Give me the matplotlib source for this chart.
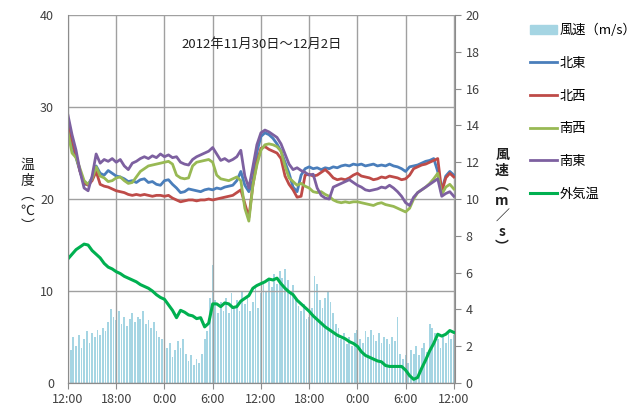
import numpy as np
import matplotlib
matplotlib.use("Agg")
import matplotlib.pyplot as plt
from matplotlib.patches import Patch

plt.rcParams['font.family'] = ['Noto Sans CJK JP', 'DejaVu Sans']

# hours after 2012-11-30 12:00, half-hourly for the temperatures
hours = np.arange(0, 48.01, 0.5)

ne = [27.6, 26.0, 24.5, 23.0, 21.6, 21.6, 22.3, 23.6, 22.8, 22.6, 23.1, 22.8, 22.5, 22.4, 22.2, 21.9,
      22.0, 21.8, 22.1, 22.2, 21.8, 21.9, 21.6, 21.5, 22.0, 22.1, 21.6, 21.2, 20.7, 20.8, 21.1, 21.0,
      20.9, 20.8, 21.0, 21.1, 21.0, 21.2, 21.1, 21.3, 21.4, 21.5, 22.0, 23.0, 21.5, 20.8, 22.0, 25.1,
      26.8, 27.2, 27.0, 26.6, 26.0, 25.2, 24.0, 22.8, 21.3, 20.8, 22.6, 23.3, 23.5, 23.3, 23.4, 23.2,
      23.4, 23.3, 23.5, 23.4, 23.6, 23.7, 23.6, 23.8, 23.7, 23.8, 23.6, 23.7, 23.8, 23.6, 23.7, 23.6,
      23.8, 23.6, 23.5, 23.3, 23.0, 23.5, 23.6, 23.7, 23.9, 24.1, 24.2, 24.4, 23.0, 21.0, 22.5, 23.0, 22.6]

nw = [28.5, 26.5, 24.8, 23.0, 21.8, 21.5, 22.0, 23.0, 21.6, 21.4, 21.3, 21.1, 20.9, 20.8, 20.7, 20.5,
      20.4, 20.5, 20.4, 20.5, 20.4, 20.3, 20.4, 20.4, 20.3, 20.4, 20.1, 19.9, 19.7, 19.8, 19.9, 19.9,
      19.8, 19.9, 19.9, 20.0, 19.9, 20.0, 20.1, 20.2, 20.3, 20.4, 20.7, 21.0, 19.5, 18.0, 21.5, 24.0,
      25.5, 25.7, 25.4, 25.2, 25.0, 24.4, 22.5, 21.6, 21.0, 20.2, 20.3, 22.6, 22.7, 22.5, 22.6, 22.9,
      23.2, 22.8, 22.3, 22.1, 22.2, 22.1, 22.3, 22.6, 22.8, 22.5, 22.4, 22.3, 22.1, 22.2, 22.4, 22.3,
      22.5, 22.4, 22.3, 22.1, 22.2, 22.6, 23.3, 23.5, 23.7, 23.8, 24.0, 24.2, 24.4, 20.8, 22.3, 22.8, 22.4]

sw = [27.2, 25.0, 24.5, 23.3, 22.0, 21.6, 22.2, 23.5, 22.5, 22.3, 21.9, 22.0, 22.3, 22.4, 22.0, 21.7,
      21.8, 22.4, 23.0, 23.3, 23.6, 23.7, 23.8, 23.9, 24.0, 24.1, 23.8, 22.6, 22.3, 22.2, 22.3, 23.6,
      24.0, 24.1, 24.2, 24.3, 24.0, 22.6, 22.2, 22.1, 22.0, 22.2, 22.4, 22.0, 19.0, 17.6, 21.5, 23.7,
      25.3, 25.9, 26.0, 25.9, 25.7, 25.2, 23.6, 22.3, 21.9, 21.5, 21.7, 21.4, 21.2, 20.8, 20.7, 20.8,
      20.5, 20.3, 19.9, 19.7, 19.6, 19.7, 19.6, 19.7, 19.7, 19.6, 19.5, 19.4, 19.3, 19.5, 19.6, 19.4,
      19.3, 19.2, 19.0, 18.8, 18.6, 19.0, 20.0, 20.7, 21.0, 21.3, 21.7, 22.2, 22.8, 20.5, 21.3, 21.6, 21.1]

se = [29.1, 27.0, 25.3, 23.0, 21.2, 20.9, 22.5, 24.9, 23.9, 24.3, 24.1, 24.4, 24.0, 24.3, 23.6, 23.2,
      23.9, 24.1, 24.4, 24.6, 24.4, 24.7, 24.5, 24.9, 24.6, 24.8, 24.5, 24.6, 24.0, 23.8, 23.7, 24.3,
      24.6, 24.8, 25.0, 25.2, 25.6, 24.9, 24.2, 24.4, 24.1, 24.3, 24.6, 25.3, 22.5, 21.2, 23.5, 25.9,
      27.2, 27.5, 27.3, 27.0, 26.7, 26.0, 24.9, 23.8, 23.2, 23.4, 23.1, 22.9, 22.6, 22.7, 21.2, 20.4,
      20.1, 20.0, 21.3, 21.5, 21.7, 21.9, 22.1, 21.8, 21.5, 21.3, 21.0, 20.9, 21.0, 21.1, 21.3, 21.2,
      21.5, 21.2, 20.8, 20.3, 19.6, 19.3, 20.2, 20.7, 21.0, 21.3, 21.6, 21.9, 22.2, 20.3, 20.6, 20.8, 20.3]

outside = [13.5, 14.0, 14.5, 14.8, 15.1, 15.0, 14.4, 14.0, 13.6, 13.0, 12.6, 12.4, 12.1, 11.9, 11.6, 11.4,
           11.2, 11.0, 10.7, 10.5, 10.3, 10.0, 9.6, 9.3, 9.1, 8.5, 7.9, 7.1, 7.9, 7.7, 7.4, 7.3,
           7.0, 7.1, 6.1, 6.5, 8.6, 8.6, 8.3, 8.7, 8.6, 8.2, 8.3, 8.9, 9.2, 9.5, 10.3, 10.6,
           10.8, 11.0, 11.3, 11.2, 11.4, 10.8, 10.3, 9.9, 9.6, 9.0, 8.6, 8.2, 7.8, 7.3, 6.9, 6.5,
           6.1, 5.8, 5.5, 5.2, 5.0, 4.8, 4.5, 4.3, 4.0, 3.4, 3.0, 2.8, 2.6, 2.4, 2.3, 1.9,
           1.8, 1.8, 1.8, 1.8, 1.4, 0.8, 0.4, 0.6, 1.6, 2.5, 3.5, 4.3, 5.3, 5.1, 5.3, 5.7, 5.5]

# wind speed every 20 minutes
wind_hours = np.arange(0, 48.01, 1 / 3)
wind = [2.3, 1.8, 2.5, 2.0, 2.6, 1.9, 2.4, 2.8, 2.2, 2.7, 2.5, 2.9, 2.6, 3.0, 2.8, 3.3, 4.0, 3.6,
        3.4, 3.9, 3.2, 3.6, 3.1, 3.5, 3.8, 3.3, 3.6, 3.5, 3.9, 3.2, 3.4, 3.0, 3.3, 2.8, 2.5, 2.4,
        2.3, 1.9, 2.2, 1.4, 1.8, 2.3, 1.9, 2.4, 1.6, 1.2, 1.5, 1.0, 1.3, 1.1, 1.6, 2.4, 2.8, 4.6,
        6.4, 4.5, 3.8, 4.4, 3.9, 4.6, 3.8, 4.9, 4.2, 4.5, 3.9, 5.0, 4.3, 4.8, 3.9, 4.4, 5.2, 4.1,
        4.9, 5.5, 5.0, 5.6, 5.2, 5.9, 5.4, 6.1, 5.7, 6.2, 5.6, 5.0, 5.3, 4.6, 4.2, 3.9, 4.3, 3.5,
        3.6, 4.1, 5.8, 5.4, 4.5, 4.1, 4.6, 5.0, 4.4, 3.8, 3.2, 3.0, 2.4, 2.7, 2.1, 2.5, 2.0, 2.7,
        2.9, 2.4, 2.2, 2.8, 2.5, 2.9, 2.6, 2.3, 2.7, 2.2, 2.5, 2.4, 2.1, 2.5, 2.3, 3.6, 1.6, 1.3,
        1.5, 1.1, 1.8, 1.6, 2.0, 1.5, 1.9, 2.2, 1.7, 3.2, 3.0, 2.7, 2.4, 1.9, 2.5, 2.2, 2.8, 2.4,
        2.6]

tick_labels = ['12:00', '18:00', '0:00', '6:00', '12:00', '18:00', '0:00', '6:00', '12:00']

fig = plt.figure(figsize=(6.38, 4.08), dpi=100)
ax = fig.add_axes([0.1066, 0.0613, 0.6066, 0.9017])
ax2 = ax.twinx()

# wind bars on the right axis, behind the temperature lines
ax2.bar(wind_hours, wind, width=0.22, color='#a5d5e3', align='center')
ax2.set_ylim(0, 20)
ax2.set_yticks(range(0, 21, 2))

ax.set_zorder(ax2.get_zorder() + 1)
ax.patch.set_visible(False)

ax.plot(hours, ne, color='#4a7ebb', lw=2.0, label='北東')
ax.plot(hours, nw, color='#be4b48', lw=2.0, label='北西')
ax.plot(hours, sw, color='#98b954', lw=2.0, label='南西')
ax.plot(hours, se, color='#7d60a0', lw=2.0, label='南東')
ax.plot(hours, outside, color='#00b050', lw=2.2, label='外気温')

ax.set_xlim(0, 48.15)
ax.set_ylim(0, 40)
ax.set_yticks([0, 10, 20, 30, 40])
ax.set_xticks(np.arange(0, 48.1, 6))
ax.set_xticklabels(tick_labels)
ax.grid(True, color='#a0a0a0', lw=1.0)

for a in (ax, ax2):
    for s in a.spines.values():
        s.set_color('#8c8c8c')
    a.spines['top'].set_visible(False)
    a.tick_params(labelsize=9, colors='#404040', length=4, color='#8c8c8c')
ax2.spines['left'].set_visible(False)
ax.spines['right'].set_visible(False)
ax.tick_params(axis='y', length=0, pad=10)

ax.text(0.5, 0.92, '2012年11月30日～12月2日', transform=ax.transAxes,
        ha='center', va='center', fontsize=9.5, color='#202020')

fig.text(0.043, 0.52, '温\n度\n︵\n℃\n︶', ha='center', va='center', fontsize=10,
         linespacing=1.12, color='#202020')
fig.text(0.787, 0.507, '風\n速\n︵\nm\n／\ns\n︶', ha='center', va='center', fontsize=10,
         fontweight='bold', linespacing=1.12, color='#202020')

handles = [Patch(color='#a5d5e3')] + ax.get_lines()
labels = ['風速（m/s）', '北東', '北西', '南西', '南東', '外気温']
fig.legend(handles, labels, loc='upper left', bbox_to_anchor=(0.823, 0.955),
           frameon=False, fontsize=9.5, labelspacing=1.5, handlelength=2.0,
           handletextpad=0.2, borderaxespad=0)

fig.savefig('out.png', dpi=100)
